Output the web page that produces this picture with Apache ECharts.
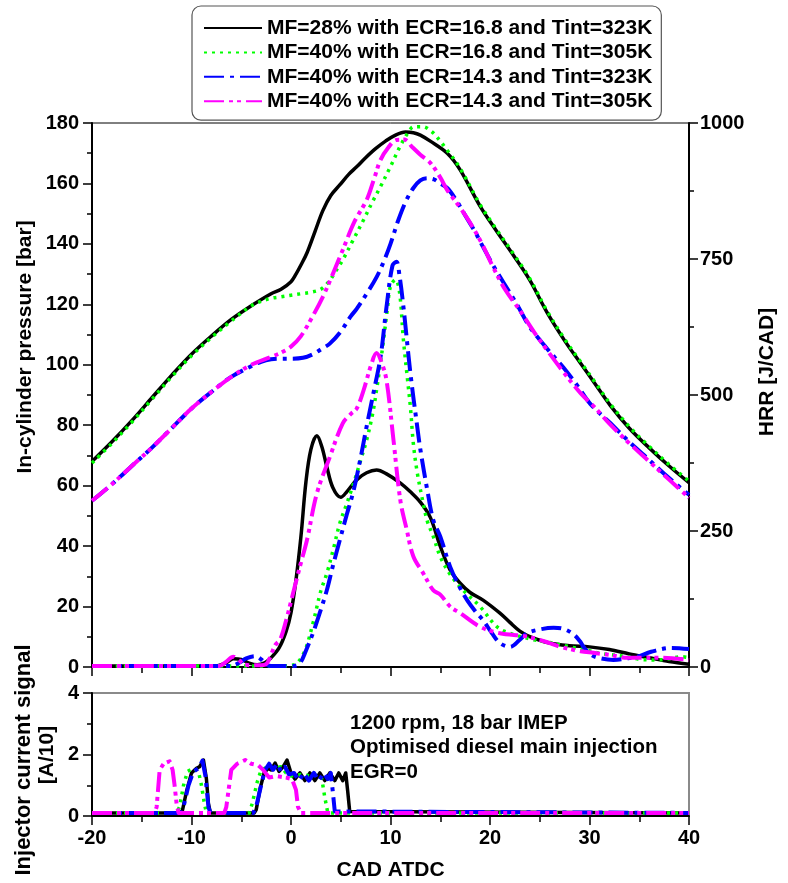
<!DOCTYPE html>
<html>
<head>
<meta charset="utf-8">
<script src="https://cdn.jsdelivr.net/npm/echarts@6/dist/echarts.min.js"></script>
<style>
html,body{margin:0;padding:0;background:#fff;}
#chart{width:788px;height:883px;}
</style>
</head>
<body>
<div id="chart"></div>
<script>
// ---------- DATA ----------
const seriesNames = [
  'MF=28% with ECR=16.8 and Tint=323K',
  'MF=40% with ECR=16.8 and Tint=305K',
  'MF=40% with ECR=14.3 and Tint=323K',
  'MF=40% with ECR=14.3 and Tint=305K'
];
const xTicks = [-20, -10, 0, 10, 20, 30, 40];
const pressureTicks = [0, 20, 40, 60, 80, 100, 120, 140, 160, 180];
const hrrTicks = [0, 250, 500, 750, 1000];
const injTicks = [0, 2, 4];

// In-cylinder pressure [bar] vs CAD
const pressureBlack = [[-20,68],[-18,74.5],[-16,81.5],[-14,89],[-12,96.5],[-10,103.5],[-8,109.5],[-6,115],[-4,119.5],[-2,123.5],[-1,125],[0,127.5],[0.5,130],[1,133],[1.6,137],[2.4,144],[3.2,151],[4,156],[4.9,159.5],[5.8,163],[6.6,165.5],[7.5,168.5],[8.5,171.5],[9.5,174],[10.5,176],[11.5,177],[12.3,176.8],[13,176],[14,174],[15.7,170],[17,164.5],[19,152.5],[20.5,145],[22.4,136],[24,128],[25.7,117.5],[27.5,108],[29.1,100.5],[30.5,94],[32.1,86.5],[34,79],[36,72.5],[38,66.5],[40,61]];
const pressureGreen = [[-20,67.5],[-18,74],[-16,81],[-14,88.5],[-12,96],[-10,103],[-8,109],[-6,114.5],[-4,119.5],[-3,121],[-2,122],[-1,122.5],[0,123],[1,123.5],[2,124],[3,125],[3.8,127.5],[4.5,131],[5.2,134.7],[6.2,141],[7.3,148],[8.2,154],[9,159],[10,165.6],[11,172.5],[11.8,177],[12.3,178.7],[13.2,178.8],[14.2,177],[15,174],[15.7,171],[17,165],[19,153],[20.5,145.5],[22.4,136.5],[24,128.5],[25.7,118],[27.5,108.5],[29.1,101],[30.5,94.5],[32.1,87],[34,79.5],[36,73],[38,67],[40,61.5]];
const pressureBlue = [[-20,55],[-18,60.5],[-16,66.5],[-14,72.5],[-12,79],[-10,85.5],[-8,91],[-6,96],[-4,99.5],[-3,101],[-2,101.8],[-1,102],[0,102],[1.2,102.3],[2.2,103.5],[3.2,105.5],[3.9,107],[5,111],[6,116],[6.6,118.5],[7.6,123.5],[8.6,129],[9.3,134],[10,140],[10.8,148],[11.6,154.5],[12.3,158.5],[13,161],[13.7,161.7],[14.4,161.3],[15,160],[15.7,158.5],[16.5,155],[17.5,149.5],[18.5,144],[19.3,139],[20.3,133],[21.4,127],[22.7,120],[24,112.5],[25.7,105.5],[27.4,99],[28.8,93],[30.1,87],[32,81],[34,74.5],[36,68.5],[38,62.5],[40,57]];
const pressureMagenta = [[-20,55],[-18,60.5],[-16,66.5],[-14,72.5],[-12,79],[-10,85.5],[-8,91],[-6,96],[-4,100],[-2.1,102.5],[-1,104],[0,106],[1,109.5],[2,115],[3.2,122.5],[4.2,130],[5.2,138],[6.4,147.5],[7.6,154.5],[8.3,161],[9,167.8],[9.8,172],[10.6,174.4],[11.4,174.5],[12.2,172],[13,169.5],[14,166.8],[15,162],[15.7,157.8],[17,152],[18,147],[19.2,140],[20.3,132.4],[21.5,125],[23,118],[24.4,111],[25.7,105],[27.4,97.5],[29.1,90.6],[30.5,86],[32,80.5],[34,74],[36,68],[38,62],[40,56]];

// HRR [J/CAD] vs CAD
const hrrBlack = [[-20,2],[-10,2],[-7.5,2],[-6.5,8],[-5.8,15],[-5,14],[-4.2,7],[-3.4,4],[-2.6,8],[-2,17],[-1.2,35],[-0.5,65],[0,100],[0.5,160],[1,240],[1.5,340],[2,400],[2.6,425],[3.1,405],[3.6,368],[4.2,330],[5,312],[5.6,322],[6.6,344],[7.6,357],[8.6,362],[9.6,355],[11,338],[12,322],[13,303],[14,275],[15,222],[16,178],[17,154],[18,137],[19.3,123],[21,99],[22,82],[23,66],[24,56],[26,44],[28,39],[30,37],[32,32],[34,24],[36,17],[38,10],[40,5]];
const hrrGreen = [[-20,2],[-2,2],[0,3],[0.6,7],[1.4,30],[2.2,80],[3,140],[3.6,172],[4.3,220],[4.9,264],[5.6,300],[6.3,338],[7,380],[7.6,417],[8.2,465],[8.6,509],[9,560],[9.3,601],[9.7,660],[10,700],[10.5,712],[10.9,690],[11.3,601],[11.7,530],[12,478],[12.3,410],[12.7,356],[13.3,300],[13.7,268],[14.3,240],[15,203],[16,170],[17.3,141],[19,111],[20.7,74],[22,62],[24.4,50],[26,45],[27.8,38],[30,30],[31.1,25],[33.8,19],[35.1,14],[36.8,13],[38,15],[39.2,19],[40,17]];
const hrrBlue = [[-20,2],[-6,2],[-5.5,5],[-5,10],[-4.5,16],[-3.6,20],[-3,14],[-2.5,5],[-2,2],[0.3,2],[0.9,7],[1.5,30],[2.2,62],[2.9,100],[3.6,141],[4.2,185],[4.9,233],[5.6,280],[6.3,325],[7,385],[7.6,442],[8.3,505],[9,570],[9.6,662],[10.2,738],[10.6,745],[10.9,720],[11.3,662],[12,540],[12.7,440],[13,400],[13.7,325],[14.3,270],[15,240],[16,184],[17,145],[17.7,123],[18.5,103],[19.3,86],[20.2,62],[21,44],[22,37],[23,50],[23.7,62],[25,69],[26.4,72],[27.4,70],[28.4,60],[29.1,46],[29.4,37],[30.2,22],[31.1,16],[32.4,13],[33.8,16],[34.8,19],[36.2,28],[38.2,35],[40,33]];
const hrrMagenta = [[-20,2],[-7.2,2],[-6.5,10],[-5.8,19],[-5.2,12],[-4.6,4],[-3,3],[-2.4,7],[-1.6,40],[-1.1,50],[-0.5,85],[0.2,135],[0.9,185],[1.6,233],[2.6,319],[3.9,386],[5.2,448],[6,465],[6.6,475],[7.3,509],[8,552],[8.6,577],[9.1,560],[9.6,527],[10.3,417],[11,305],[11.6,255],[12.3,203],[13.3,172],[14.3,141],[15,133],[16,111],[17,99],[19,74],[21,62],[23.7,56],[26,44],[27.1,37],[29.1,29],[30.4,26],[32.1,22],[33.8,17],[37.2,17],[40,13]];

// Injector current signal [A/10] vs CAD
const injBlack = [[-20,0.1],[-11.1,0.1],[-10.9,0.2],[-10.5,0.8],[-10,1.4],[-9.5,1.55],[-9.2,1.6],[-8.8,1.82],[-8.5,1.2],[-8.3,0.4],[-8.1,0.1],[-3.7,0.1],[-3.5,0.2],[-3.1,0.9],[-2.7,1.4],[-2.3,1.55],[-2.0,1.5],[-1.6,1.72],[-1.2,1.45],[-0.8,1.6],[-0.4,1.82],[0,1.4],[0.4,1.2],[0.9,1.4],[1.4,1.15],[1.9,1.4],[2.4,1.15],[2.9,1.4],[3.4,1.15],[3.9,1.4],[4.4,1.15],[4.8,1.4],[5.2,1.15],[5.5,1.4],[5.7,0.8],[5.9,0.15],[6.1,0.1],[40,0.1]];
const injGreen = [[-20,0.1],[-11.5,0.1],[-11.2,0.3],[-10.8,1.0],[-10.4,1.45],[-9.8,1.55],[-9.3,1.45],[-9.0,1.0],[-8.7,0.4],[-8.5,0.1],[-4.2,0.1],[-3.9,0.4],[-3.4,1.1],[-3.0,1.5],[-2.3,1.6],[-1.6,1.55],[-1,1.6],[-0.5,1.4],[0,1.3],[1,1.35],[2,1.3],[2.8,1.35],[3.1,1.2],[3.4,0.6],[3.7,0.1],[40,0.1]];
const injBlue = [[-20,0.1],[-11,0.1],[-10.8,0.3],[-10.3,1.0],[-9.8,1.45],[-9.3,1.55],[-8.9,1.8],[-8.6,1.3],[-8.3,0.3],[-8.1,0.1],[-3.8,0.1],[-3.5,0.3],[-3.0,1.0],[-2.6,1.5],[-2.2,1.7],[-1.8,1.5],[-1.4,1.7],[-1.0,1.45],[-0.6,1.6],[-0.2,1.35],[0.3,1.4],[0.8,1.15],[1.3,1.4],[1.8,1.15],[2.3,1.4],[2.8,1.15],[3.3,1.4],[3.7,1.2],[4.0,1.4],[4.2,0.8],[4.4,0.15],[4.6,0.1],[40,0.1]];
const injMagenta = [[-20,0.1],[-13.7,0.1],[-13.5,0.3],[-13.2,1.5],[-12.8,1.7],[-12.2,1.78],[-11.9,1.5],[-11.7,1.0],[-11.5,0.4],[-11.3,0.1],[-6.7,0.1],[-6.5,0.3],[-6.0,1.5],[-5.4,1.7],[-4.6,1.82],[-4.0,1.7],[-3.3,1.65],[-2.8,1.5],[-2.2,1.25],[-1.5,1.3],[-0.5,1.25],[0.1,1.2],[0.5,0.85],[0.7,0.3],[1.0,0.1],[40,0.1]];

const annotation = ['1200 rpm, 18 bar IMEP', 'Optimised diesel main injection', 'EGR=0'];

// ---------- STYLE ----------
const FONT = 'Liberation Sans, Arial, sans-serif';
const styles = [
  {color:'#000000', width:3.5, type:'solid'},
  {color:'#00ff00', width:3.5, type:[3,5]},
  {color:'#0000ff', width:4, type:[20,6,4,6]},
  {color:'#ff00ff', width:4, type:[20,5,4,4,4,5]}
];
const pressureData = [pressureBlack, pressureGreen, pressureBlue, pressureMagenta];
const hrrData = [hrrBlack, hrrGreen, hrrBlue, hrrMagenta];
const injData = [injBlack, injGreen, injBlue, injMagenta];

function lineSeries(name, data, st, xi, yi, smooth) {
  return {
    type:'line', name:name, data:data, xAxisIndex:xi, yAxisIndex:yi,
    showSymbol:false, symbol:'none', smooth:smooth, animation:false,
    lineStyle:{color:st.color, width:st.width, type:st.type, cap:'butt', join:'round'},
    itemStyle:{color:st.color}
  };
}
const series = [];
for (let i = 0; i < 4; i++) {
  series.push(lineSeries(seriesNames[i], pressureData[i], styles[i], 0, 0, 0.35));
  series.push(lineSeries(seriesNames[i], hrrData[i], styles[i], 0, 1, 0.35));
  series.push(lineSeries(seriesNames[i], injData[i], styles[i], 1, 2, false));
}

const labelStyle = {color:'#000', fontFamily:FONT, fontWeight:'bold', fontSize:20};
function plain(v) { return String(v); }
function xAxisDef(gi, showLabels) {
  return {
    type:'value', gridIndex:gi, min:xTicks[0], max:xTicks[xTicks.length-1], interval:10,
    axisLine:{show:true, onZero:false, lineStyle:{color:'#000', width:2}},
    axisTick:{show:true, inside:false, length:9, lineStyle:{color:'#000', width:1.5}},
    minorTick:{show:true, splitNumber:2, length:6, lineStyle:{color:'#000', width:1.5}},
    splitLine:{show:false},
    axisLabel:Object.assign({show:showLabels, margin:12, formatter:plain}, labelStyle)
  };
}
function yAxisDef(gi, min, max, interval, pos, labelMargin) {
  return {
    type:'value', gridIndex:gi, min:min, max:max, interval:interval, position:pos,
    axisLine:{show:true, onZero:false, lineStyle:{color:'#000', width:2}},
    axisTick:{show:true, inside:false, length:9, lineStyle:{color:'#000', width:1.5}},
    minorTick:{show:true, splitNumber:2, length:5, lineStyle:{color:'#000', width:1.5}},
    splitLine:{show:false},
    axisLabel:Object.assign({show:true, margin:labelMargin, formatter:plain}, labelStyle)
  };
}

const titleFont = {fontFamily:FONT, fontWeight:'bold', fontSize:21, fill:'#000'};
const option = {
  backgroundColor:'#fff',
  animation:false,
  grid:[
    {left:92, top:123, width:597, height:544, show:true, borderColor:'#000', borderWidth:1, backgroundColor:'transparent'},
    {left:92, top:693, width:597, height:123, show:true, borderColor:'#8a8a8a', borderWidth:2, backgroundColor:'transparent'}
  ],
  xAxis:[ xAxisDef(0, false), Object.assign(xAxisDef(1, true), {
    name:'CAD ATDC', nameLocation:'middle', nameGap:44,
    nameTextStyle:{color:'#000', fontFamily:FONT, fontWeight:'bold', fontSize:21}
  }) ],
  yAxis:[
    yAxisDef(0, pressureTicks[0], pressureTicks[pressureTicks.length-1], 20, 'left', 13),
    yAxisDef(0, hrrTicks[0], hrrTicks[hrrTicks.length-1], 250, 'right', 11),
    yAxisDef(1, injTicks[0], injTicks[injTicks.length-1], 2, 'left', 13)
  ],
  legend:{
    show:true, data:seriesNames, orient:'vertical', left:192, top:6,
    padding:[11,9,8,11], itemGap:2.4, itemWidth:58, itemHeight:14,
    backgroundColor:'#fff', borderColor:'#555', borderWidth:1.2, borderRadius:9,
    itemStyle:{color:'rgba(0,0,0,0)', borderColor:'rgba(0,0,0,0)', borderWidth:0, opacity:0},
    textStyle:{color:'#000', fontFamily:FONT, fontWeight:'bold', fontSize:21, lineHeight:22},
    selectedMode:false, z:10
  },
  series:series,
  graphic:[
    {type:'text', x:25, y:347, rotation:Math.PI/2, style:Object.assign({text:'In-cylinder pressure [bar]', align:'center', verticalAlign:'middle'}, titleFont)},
    {type:'text', x:767, y:372, rotation:Math.PI/2, style:Object.assign({text:'HRR [J/CAD]', align:'center', verticalAlign:'middle'}, titleFont)},
    {type:'text', x:24, y:760, rotation:Math.PI/2, style:Object.assign({text:'Injector current signal', align:'center', verticalAlign:'middle'}, titleFont, {fontSize:22})},
    {type:'text', x:47, y:755, rotation:Math.PI/2, style:Object.assign({text:'[A/10]', align:'center', verticalAlign:'middle'}, titleFont)},
    {type:'text', left:350, top:711, style:Object.assign({text:annotation.join('\n'), lineHeight:24.5, align:'left'}, titleFont, {fontSize:20.5})}
  ]
};
const chart = echarts.init(document.getElementById('chart'), null, {renderer:'canvas'});
chart.setOption(option);
</script>
</body>
</html>
